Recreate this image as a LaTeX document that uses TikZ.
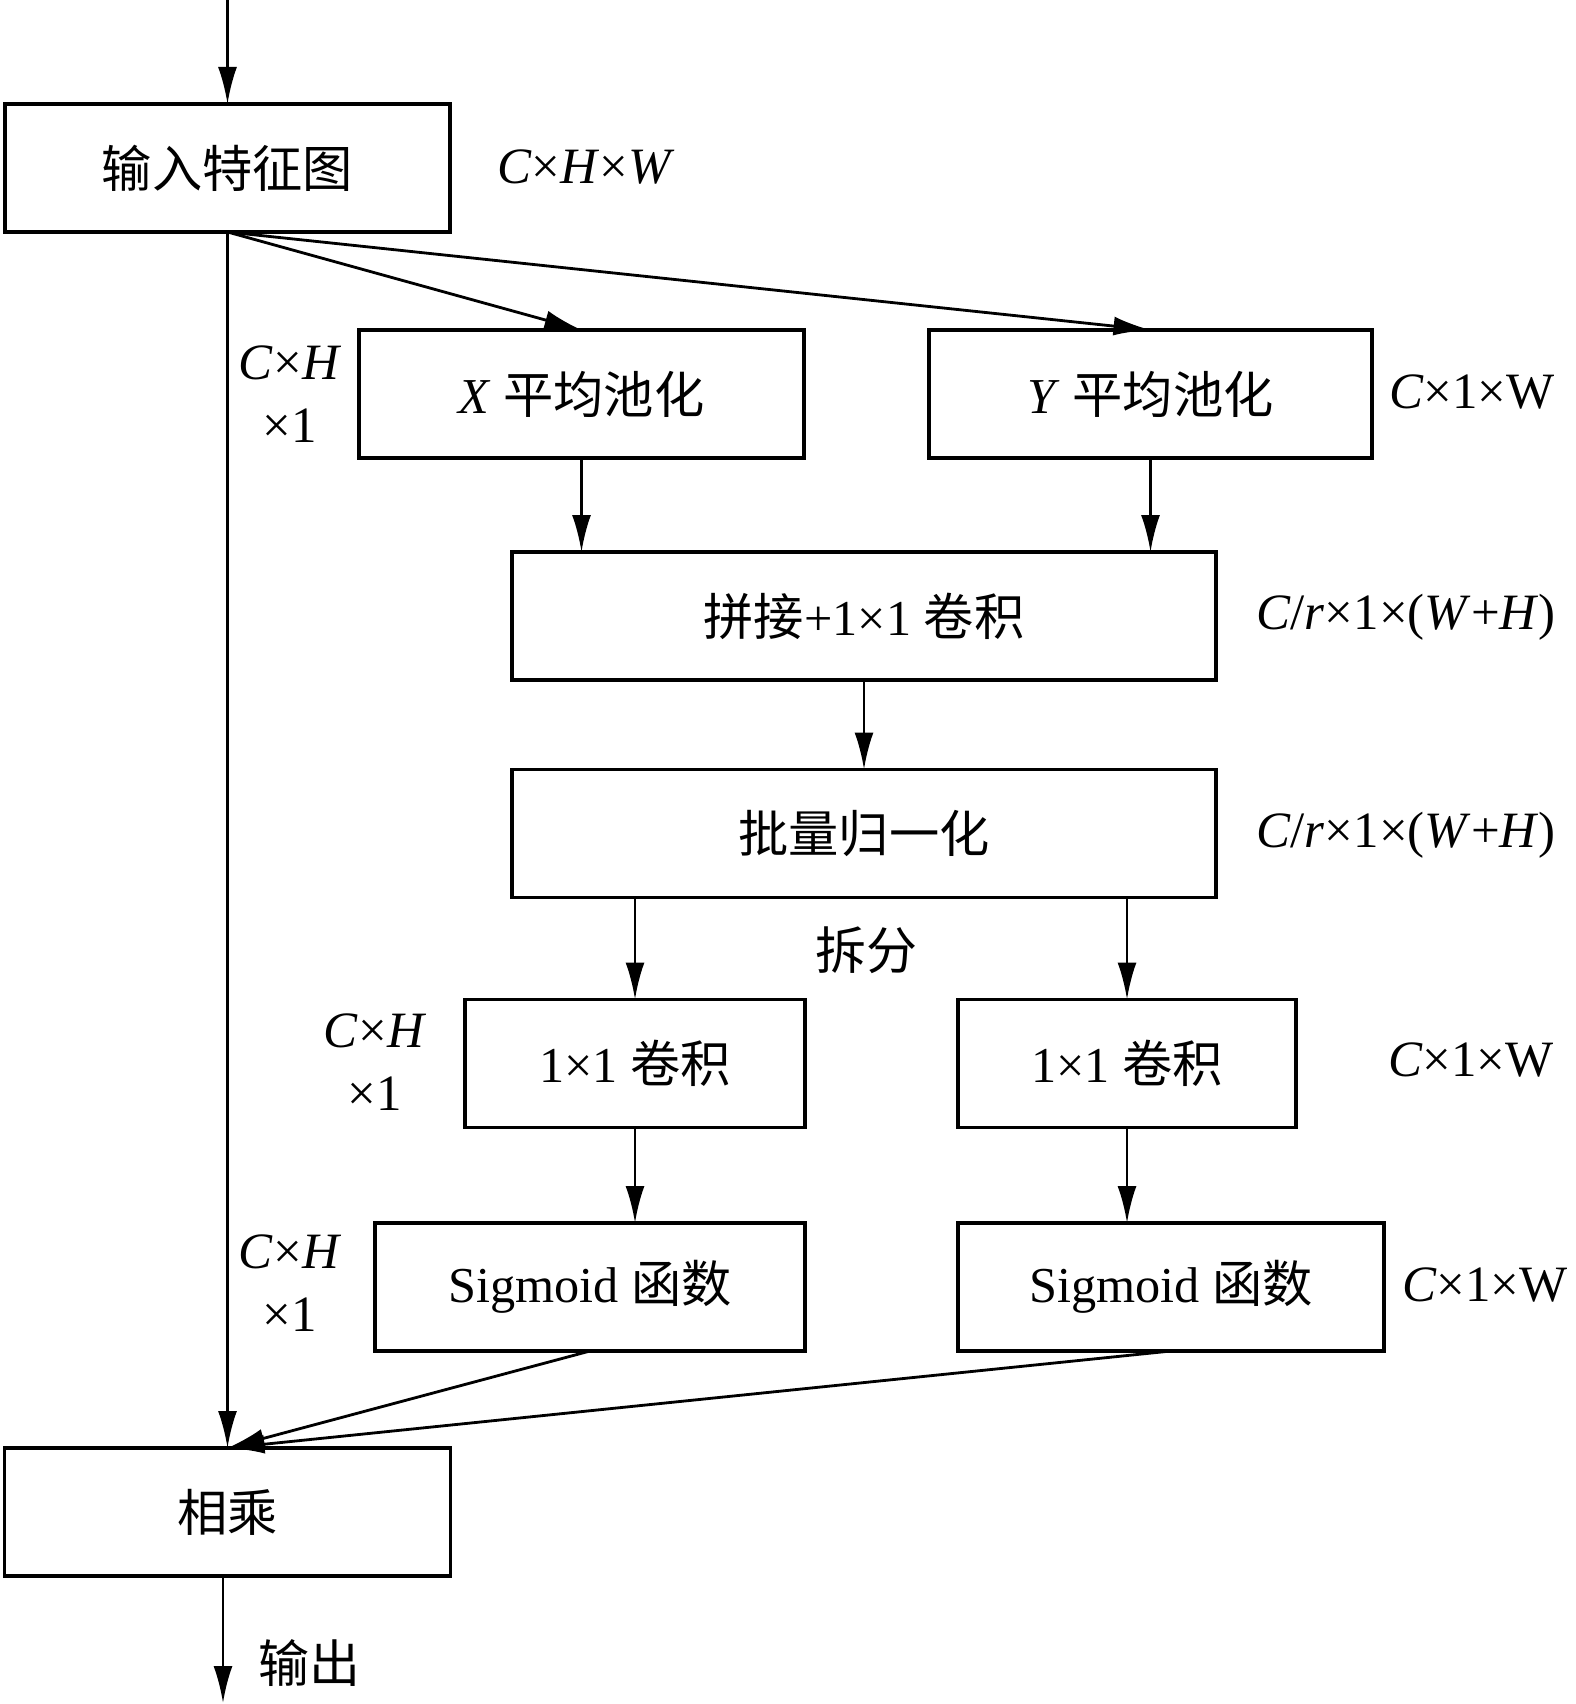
\documentclass[tikz,border=0pt]{standalone}
\usepackage{fontspec}
\setmainfont{Liberation Serif}
\newfontfamily\cjk{Noto Sans CJK SC}
\usetikzlibrary{arrows.meta,calc}

\begin{document}
\begin{tikzpicture}[auto, outer sep=0pt, node distance=0cm,
  >={Latex[length=3.7mm,width=1.9mm]},
  block/.style={draw, line width=0.9pt, minimum height=1.28cm, inner sep=0pt,
    font=\fontsize{14.3}{18}\selectfont},
  dim/.style={align=center, inner sep=0pt, font=\fontsize{14.5}{18}\selectfont},
  flow/.style={->, line width=0.8pt}]

\useasboundingbox (0,0) rectangle (15.75,-17.04);

\node[block, minimum width=4.45cm] at (2.275, -1.68) (IN_MAP) {\cjk 输入特征图};
\node[block, minimum width=4.45cm] at (5.815, -3.94) (X_POOL) {\textit{X} {\cjk 平均池化}};
\node[block, minimum width=4.43cm] at (11.505, -3.94) (Y_POOL) {\textit{Y} {\cjk 平均池化}};
\node[block, minimum width=7.04cm] at (8.64, -6.16) (CONCAT) {{\cjk 拼接}+1×1 {\cjk 卷积}};
\node[block, minimum width=7.04cm] at (8.64, -8.335) (BN) {\cjk 批量归一化};
\node[block, minimum width=3.40cm] at (6.35, -10.635) (CONV_X) {1×1 {\cjk 卷积}};
\node[block, minimum width=3.38cm] at (11.27, -10.635) (CONV_Y) {1×1 {\cjk 卷积}};
\node[block, minimum width=4.30cm] at (5.90, -12.87) (SIG_X) {Sigmoid {\cjk 函数}};
\node[block, minimum width=4.26cm] at (11.71, -12.87) (SIG_Y) {Sigmoid {\cjk 函数}};
\node[block, minimum width=4.46cm] at (2.275, -15.12) (MUL) {\cjk 相乘};

% dimension labels
\node[dim] at (5.86, -1.67) (D_IN) {\textit{C}×\textit{H}×\textit{W}};
\node[dim] at (2.90, -3.94) (D_XPOOL) {\textit{C}×\textit{H}\\×1};
\node[dim] at (14.72, -3.92) (D_YPOOL) {\textit{C}×1×W};
\node[dim] at (14.06, -6.17) (D_CONCAT) {\textit{C}/\textit{r}×1×(\textit{W}+\textit{H})};
\node[dim] at (14.06, -8.35) (D_BN) {\textit{C}/\textit{r}×1×(\textit{W}+\textit{H})};
\node[dim] at (3.75, -10.62) (D_CONVX) {\textit{C}×\textit{H}\\×1};
\node[dim] at (14.71, -10.60) (D_CONVY) {\textit{C}×1×W};
\node[dim] at (2.90, -12.83) (D_SIGX) {\textit{C}×\textit{H}\\×1};
\node[dim] at (14.85, -12.85) (D_SIGY) {\textit{C}×1×W};
\node[dim] at (8.66, -9.50) (SPLIT) {\cjk 拆分};
\node[dim] at (3.09, -16.63) (OUT_TXT) {\cjk 输出};

\coordinate (TOP) at (2.275, 0);
\coordinate (OUT) at (2.23, -17.03);

\draw [flow] (TOP) -- (IN_MAP);
\draw [flow] (IN_MAP.south) -- (X_POOL.north);
\draw [flow] (IN_MAP.south) -- (Y_POOL.north);
\draw [flow] (IN_MAP) -- (MUL);
\draw [flow] (X_POOL) -- (X_POOL |- CONCAT.north);
\draw [flow] (Y_POOL) -- (Y_POOL |- CONCAT.north);
\draw [flow] (CONCAT) -- (BN);
\draw [flow] (CONV_X |- BN.south) -- (CONV_X);
\draw [flow] (CONV_Y |- BN.south) -- (CONV_Y);
\draw [flow] (CONV_X.south) -- (CONV_X.south |- SIG_X.north);
\draw [flow] (CONV_Y.south) -- (CONV_Y.south |- SIG_Y.north);
\draw [flow] (SIG_X.south) -- (MUL.north);
\draw [flow] (SIG_Y.south) -- (MUL.north);
\draw [flow] (OUT |- MUL.south) -- (OUT);
\end{tikzpicture}
\end{document}
